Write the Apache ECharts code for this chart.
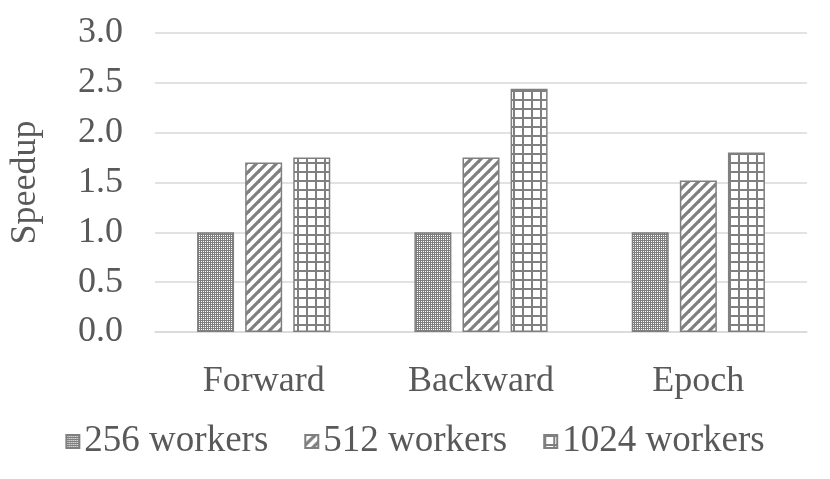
<!DOCTYPE html>
<html><head><meta charset="utf-8">
<script src="https://cdn.jsdelivr.net/npm/echarts@6/dist/echarts.min.js"></script>
<style>html,body{margin:0;padding:0;background:#fff}#c{width:830px;height:479px}</style>
</head><body><div id="c"></div>
<script>
const categories = ['Forward', 'Backward', 'Epoch'];
const seriesNames = ['256 workers', '512 workers', '1024 workers'];
const workers256 = [1.0, 1.0, 1.0];
const workers512 = [1.70, 1.75, 1.52];
const workers1024 = [1.75, 2.44, 1.80];
const yTicks = [0, 0.5, 1.0, 1.5, 2.0, 2.5, 3.0];

const G = '#7f7f7f';
function mk(w, h, draw) {
  const c = document.createElement('canvas'); c.width = w; c.height = h;
  const x = c.getContext('2d'); x.fillStyle = '#fff'; x.fillRect(0, 0, w, h); draw(x); return c;
}
const checker = mk(4, 4, x => {
  x.fillStyle = G;
  x.fillRect(0, 0, 4, 4);
  x.fillStyle = '#fff';
  x.fillRect(1, 1, 1, 1); x.fillRect(3, 3, 1, 1);
  x.fillRect(3, 1, 1, 1); x.fillRect(1, 3, 1, 1);
});
const stripes = mk(10, 10, x => {
  x.strokeStyle = G; x.lineWidth = 3.2;
  for (let k = -1; k <= 1; k++) {
    x.beginPath(); x.moveTo(k * 10 - 2, 12); x.lineTo(k * 10 + 12, -2); x.stroke();
  }
});
const grid = mk(9, 9, x => {
  x.fillStyle = G;
  x.fillRect(0, 0, 9, 2); x.fillRect(0, 0, 2, 9);
});
const pats = [checker, stripes, grid].map(c => ({ image: c, repeat: 'repeat' }));
const dataSets = [workers256, workers512, workers1024];

const font = 'Liberation Serif';
const FS = 36;
const chart = echarts.init(document.getElementById('c'));
chart.setOption({
  animation: false,
  textStyle: { fontFamily: font },
  grid: { left: 153, right: 23, top: 33, bottom: 147 },
  legend: {
    top: 418, left: 'center', itemWidth: 13, itemHeight: 13, itemGap: 36,
    icon: 'rect',
    textStyle: { fontFamily: font, fontSize: 37, color: '#595959' },
    data: seriesNames
  },
  xAxis: {
    type: 'category', data: categories,
    axisLine: { lineStyle: { color: '#d9d9d9', width: 1.5 } },
    axisTick: { show: false },
    axisLabel: { fontFamily: font, fontSize: FS, color: '#595959', margin: 32 }
  },
  yAxis: {
    type: 'value', min: 0, max: 3, interval: 0.5,
    name: 'Speedup', nameLocation: 'middle', nameGap: 111,
    nameTextStyle: { fontFamily: font, fontSize: FS, color: '#595959' },
    axisLine: { show: false }, axisTick: { show: false },
    splitLine: { lineStyle: { color: '#d9d9d9', width: 1.5 } },
    axisLabel: { fontFamily: font, fontSize: FS, color: '#595959', margin: 32,
      formatter: v => yTicks.includes(v) ? v.toFixed(1) : '' }
  },
  series: dataSets.map((d, i) => ({
    type: 'bar', name: seriesNames[i], data: d,
    barWidth: 37, barGap: '30%',
    itemStyle: { color: pats[i], borderColor: G, borderWidth: 1.5 }
  }))
});
</script></body></html>
